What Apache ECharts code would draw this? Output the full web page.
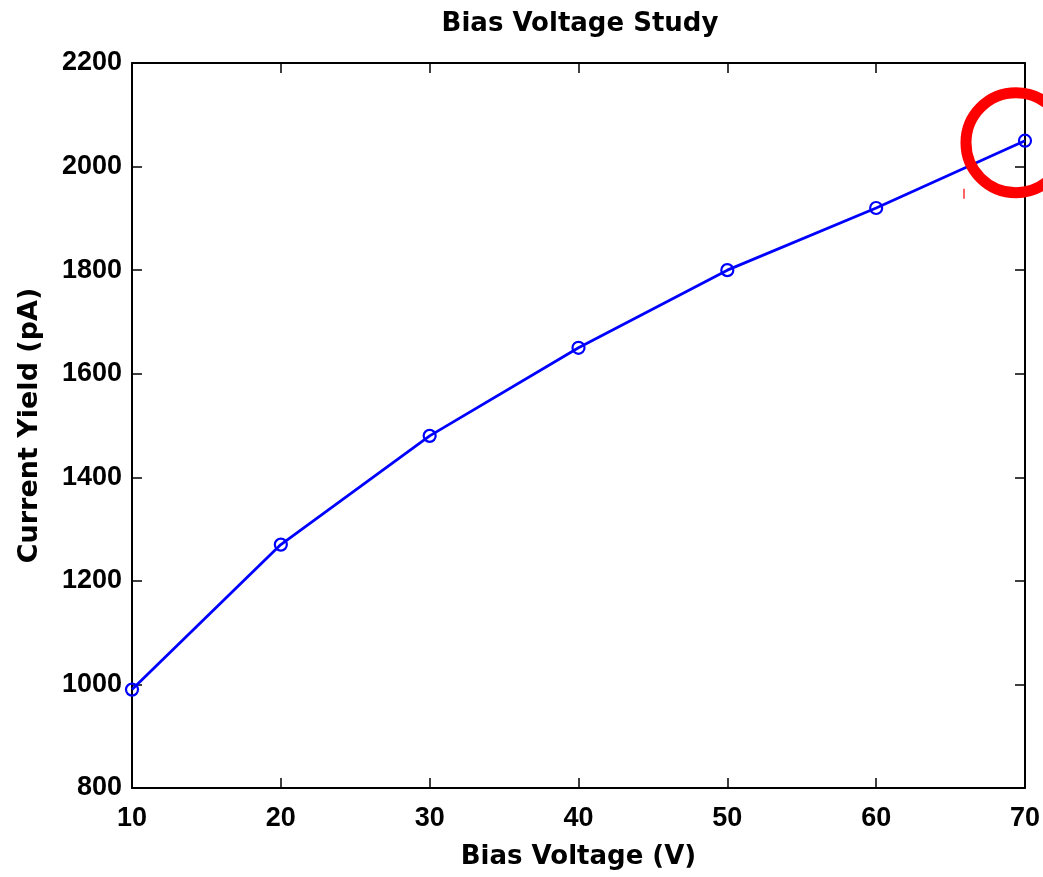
<!DOCTYPE html>
<html><head><meta charset="utf-8">
<script src="https://cdn.jsdelivr.net/npm/echarts@6/dist/echarts.min.js"></script>
<style>html,body{margin:0;padding:0;background:#fff}#c{width:1043px;height:877px}</style>
</head><body><div id="c"></div>
<script>
const voltages = [10, 20, 30, 40, 50, 60, 70];
const currents = [990, 1270, 1480, 1650, 1800, 1920, 2050];
const titleText = 'Bias Voltage Study';
const xName = 'Bias Voltage (V)';
const yName = 'Current Yield (pA)';

const chart = echarts.init(document.getElementById('c'));
const tickFont = 'Liberation Sans, Arial, Helvetica, sans-serif';
const nameFont = 'DejaVu Sans, Liberation Sans, sans-serif';
const tickLbl = {color:'#000', fontFamily:tickFont, fontWeight:'bold', fontSize:27};
const nameLbl = {color:'#000', fontFamily:nameFont, fontWeight:'bold', fontSize:26};
const axLine = {show:true, lineStyle:{color:'#000', width:2}};
const tick = {show:true, inside:true, length:10, lineStyle:{color:'#000', width:1.5}};
chart.setOption({
  animation:false,
  backgroundColor:'#fff',
  title:{text:titleText, left:575, textAlign:'center', top:6,
    textStyle:{color:'#000', fontFamily:nameFont, fontWeight:'bold', fontSize:26}},
  grid:{left:132, right:15, top:63, bottom:89},
  xAxis:[{type:'value', min:10, max:70, interval:10, position:'bottom',
    name:xName, nameLocation:'middle', nameGap:56,
    nameTextStyle:nameLbl, axisLabel:Object.assign({margin:17, formatter:v=>String(v)}, tickLbl),
    axisLine:axLine, axisTick:tick, splitLine:{show:false}},
   {type:'value', min:10, max:70, interval:10, position:'top',
    axisLabel:{show:false}, axisLine:axLine, axisTick:tick, splitLine:{show:false}}],
  yAxis:[{type:'value', min:800, max:2200, interval:200, position:'left',
    name:yName, nameLocation:'middle', nameGap:89,
    nameTextStyle:Object.assign({}, nameLbl, {fontSize:27}), axisLabel:Object.assign({margin:10, formatter:v=>String(v)}, tickLbl),
    axisLine:axLine, axisTick:tick, splitLine:{show:false}},
   {type:'value', min:800, max:2200, interval:200, position:'right',
    axisLabel:{show:false}, axisLine:axLine, axisTick:tick, splitLine:{show:false}}],
  series:[{type:'line', data:voltages.map((v,i)=>[v,currents[i]]),
    symbol:'circle', symbolSize:12, showAllSymbol:true,
    itemStyle:{color:'rgba(0,0,0,0)', borderColor:'#0000ff', borderWidth:2.2},
    lineStyle:{color:'#0000ff', width:2.8}}]
});
const p = chart.convertToPixel({xAxisIndex:0, yAxisIndex:0}, [voltages[6], currents[6]]);
chart.setOption({graphic:[
  {type:'circle', shape:{cx:p[0]-9, cy:p[1]+2, r:50}, style:{fill:'none', stroke:'#ff0000', lineWidth:11}, z:100},
  {type:'line', shape:{x1:p[0]-61, y1:p[1]+48, x2:p[0]-61, y2:p[1]+58}, style:{stroke:'#ff3030', lineWidth:1.5}, z:100}
]});
</script></body></html>
